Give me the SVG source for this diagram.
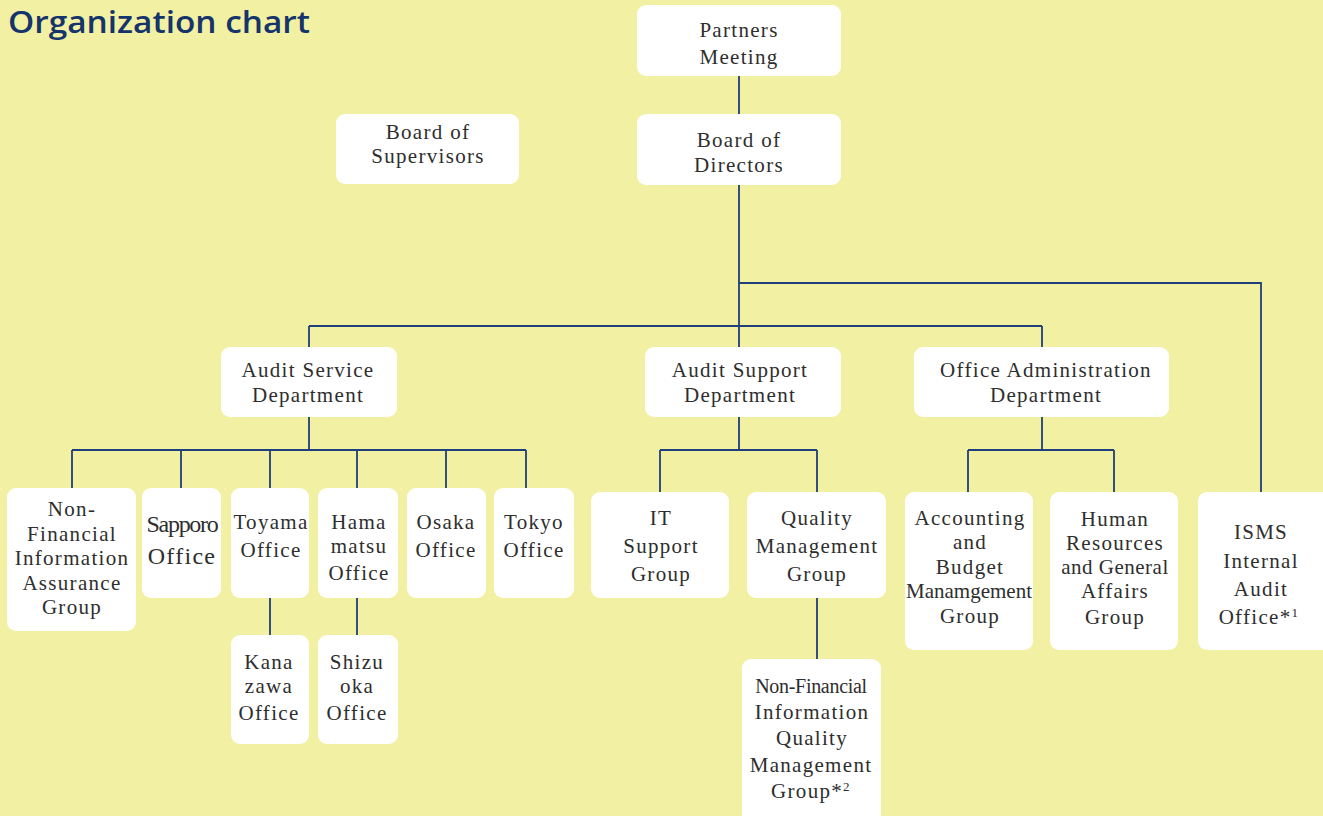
<svg xmlns="http://www.w3.org/2000/svg" width="1323" height="816" viewBox="0 0 1323 816">
<style>
.bg{fill:#f2f0a2}
.box{fill:#ffffff}
.t{font-family:"Liberation Serif","DejaVu Serif",serif;font-size:21px;fill:#2e2e2e;text-anchor:middle;letter-spacing:1.3px}
.c{fill:none;stroke:#1f3f7a;stroke-width:1.8}
.title{font-family:"Open Sans","Liberation Sans",sans-serif;font-size:31px;font-weight:600;fill:#15346c}
</style>
<rect class="bg" x="0" y="0" width="1323" height="816"/>
<text class="title" x="8" y="33" textLength="302" lengthAdjust="spacingAndGlyphs">Organization chart</text>
<g id="connectors">
<path class="c" d="M739 76V114M739 185V347M739 283H1261V492M309 326H1042M309 326V347M1042 326V347"/>
<path class="c" d="M309 417V450M72 450H526M72 450V488M181 450V488M270 450V488M357 450V488M446 450V488M526 450V488M270 598V635M357 598V635"/>
<path class="c" d="M739 417V450M660 450H817M660 450V492M817 450V492M817 598V659"/>
<path class="c" d="M1042 417V450M968 450H1114M968 450V492M1114 450V492"/>
</g>
<g id="partners"><rect class="box" x="637" y="5" width="204" height="71" rx="9"/><text class="t"><tspan x="739" y="37">Partners</tspan><tspan x="739" y="64">Meeting</tspan></text></g>
<g id="directors"><rect class="box" x="637" y="114" width="204" height="71" rx="9"/><text class="t"><tspan x="739" y="147">Board of</tspan><tspan x="739" y="172">Directors</tspan></text></g>
<g id="supervisors"><rect class="box" x="336" y="114" width="183" height="70" rx="9"/><text class="t"><tspan x="428" y="139">Board of</tspan><tspan x="428" y="163">Supervisors</tspan></text></g>
<g id="audit-service"><rect class="box" x="221" y="347" width="176" height="70" rx="9"/><text class="t"><tspan x="308" y="377">Audit Service</tspan><tspan x="308" y="402">Department</tspan></text></g>
<g id="audit-support"><rect class="box" x="645" y="347" width="196" height="70" rx="9"/><text class="t"><tspan x="740" y="377">Audit Support</tspan><tspan x="740" y="402">Department</tspan></text></g>
<g id="office-admin"><rect class="box" x="914" y="347" width="255" height="70" rx="9"/><text class="t"><tspan x="1046" y="377">Office Administration</tspan><tspan x="1046" y="402">Department</tspan></text></g>
<g id="nfia"><rect class="box" x="7" y="488" width="129" height="143" rx="9"/><text class="t"><tspan x="72" y="516">Non-</tspan><tspan x="72" y="541">Financial</tspan><tspan x="72" y="565">Information</tspan><tspan x="72" y="590">Assurance</tspan><tspan x="72" y="614">Group</tspan></text></g>
<g id="sapporo"><rect class="box" x="142" y="488" width="79" height="110" rx="9"/><text class="t"><tspan x="182" y="532" style="font-size:24px;letter-spacing:-1.3px">Sapporo</tspan><tspan x="182" y="564" style="font-size:24px">Office</tspan></text></g>
<g id="toyama"><rect class="box" x="231" y="488" width="78" height="110" rx="9"/><text class="t"><tspan x="271" y="529">Toyama</tspan><tspan x="271" y="557">Office</tspan></text></g>
<g id="hamamatsu"><rect class="box" x="318" y="488" width="80" height="110" rx="9"/><text class="t"><tspan x="359" y="529">Hama</tspan><tspan x="359" y="553">matsu</tspan><tspan x="359" y="580">Office</tspan></text></g>
<g id="osaka"><rect class="box" x="407" y="488" width="79" height="110" rx="9"/><text class="t"><tspan x="446" y="529">Osaka</tspan><tspan x="446" y="557">Office</tspan></text></g>
<g id="tokyo"><rect class="box" x="494" y="488" width="80" height="110" rx="9"/><text class="t"><tspan x="534" y="529">Tokyo</tspan><tspan x="534" y="557">Office</tspan></text></g>
<g id="kanazawa"><rect class="box" x="231" y="635" width="78" height="109" rx="9"/><text class="t"><tspan x="269" y="669">Kana</tspan><tspan x="269" y="693">zawa</tspan><tspan x="269" y="720">Office</tspan></text></g>
<g id="shizuoka"><rect class="box" x="318" y="635" width="80" height="109" rx="9"/><text class="t"><tspan x="357" y="669">Shizu</tspan><tspan x="357" y="693">oka</tspan><tspan x="357" y="720">Office</tspan></text></g>
<g id="it-support"><rect class="box" x="591" y="492" width="138" height="106" rx="9"/><text class="t"><tspan x="661" y="525">IT</tspan><tspan x="661" y="553">Support</tspan><tspan x="661" y="581">Group</tspan></text></g>
<g id="quality"><rect class="box" x="747" y="492" width="139" height="106" rx="9"/><text class="t"><tspan x="817" y="525">Quality</tspan><tspan x="817" y="553">Management</tspan><tspan x="817" y="581">Group</tspan></text></g>
<g id="nfiqm"><rect class="box" x="742" y="659" width="139" height="170" rx="9"/><text class="t"><tspan x="811" y="693" style="font-size:20px;letter-spacing:-0.3px">Non-Financial</tspan><tspan x="812" y="719">Information</tspan><tspan x="812" y="745">Quality</tspan><tspan x="811" y="772">Management</tspan><tspan x="811" y="798">Group*<tspan style="font-size:13px" dy="-7">2</tspan></tspan></text></g>
<g id="accounting"><rect class="box" x="905" y="492" width="128" height="158" rx="9"/><text class="t"><tspan x="970" y="525">Accounting</tspan><tspan x="970" y="549">and</tspan><tspan x="970" y="574">Budget</tspan><tspan x="969" y="598" style="letter-spacing:0">Manamgement</tspan><tspan x="970" y="623">Group</tspan></text></g>
<g id="hr"><rect class="box" x="1050" y="492" width="128" height="158" rx="9"/><text class="t"><tspan x="1115" y="526">Human</tspan><tspan x="1115" y="550">Resources</tspan><tspan x="1115" y="574" style="letter-spacing:0.5px">and General</tspan><tspan x="1115" y="598">Affairs</tspan><tspan x="1115" y="624">Group</tspan></text></g>
<g id="isms"><rect class="box" x="1198" y="492" width="135" height="158" rx="9"/><text class="t"><tspan x="1261" y="539">ISMS</tspan><tspan x="1261" y="568">Internal</tspan><tspan x="1261" y="596">Audit</tspan><tspan x="1259" y="624">Office*<tspan style="font-size:13px" dy="-7">1</tspan></tspan></text></g>
</svg>
